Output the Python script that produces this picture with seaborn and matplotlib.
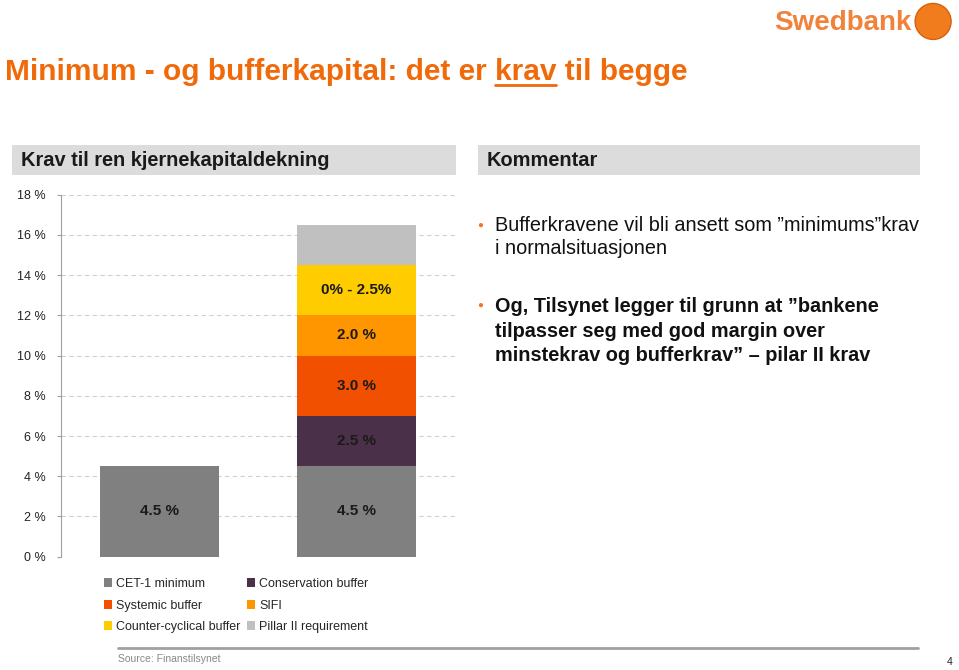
import pandas as pd
import matplotlib.pyplot as plt
import seaborn as sns
from matplotlib.patches import Rectangle, Ellipse

# data
categories = ['Minimum', 'Totalt']
components = ['CET-1 minimum', 'Conservation buffer', 'Systemic buffer', 'SIFI',
              'Counter-cyclical buffer', 'Pillar II requirement']
minimum_vals = [4.5, 0, 0, 0, 0, 0]
total_vals = [4.5, 2.5, 3.0, 2.0, 2.5, 2.0]
seg_labels = ['4.5 %', '2.5 %', '3.0 %', '2.0 %', '0% - 2.5%', '']
colors = ['#808080', '#4B3049', '#F05000', '#FF9600', '#FFCC00', '#C0C0C0']
yticks = [0, 2, 4, 6, 8, 10, 12, 14, 16, 18]

sns.set_style('white')
plt.rcParams['font.family'] = ['Liberation Sans', 'DejaVu Sans']

fig = plt.figure(figsize=(9.59, 6.7), dpi=100)
ax = fig.add_axes([0.0636, 0.1691, 0.4109, 0.5403])

df = pd.DataFrame({'Minimum': minimum_vals, 'Totalt': total_vals}, index=components)
cum = df.cumsum()

# stablede søyler: tegn kumulative summer fra øverste lag og ned
for comp, col in reversed(list(zip(components, colors))):
    d = pd.DataFrame({'kategori': categories, 'verdi': cum.loc[comp].values})
    sns.barplot(data=d, x='kategori', y='verdi', color=col, saturation=1,
                width=0.6, ax=ax, zorder=3, linewidth=0, edgecolor='none')

# tekst i segmentene
for i, cat in enumerate(categories):
    bottom = 0
    for comp, lab in zip(components, seg_labels):
        h = df.loc[comp, cat]
        if h > 0 and lab:
            ax.text(i, bottom + h / 2, lab, ha='center', va='center',
                    fontsize=11, fontweight='bold', color='#1a1a1a', zorder=4)
        bottom += h

ax.set_xlim(-0.5, 1.5)
ax.set_ylim(0, 18)
ax.set_yticks(yticks)
ax.set_yticklabels([f'{v} %' for v in yticks], fontsize=9, color='#222222')
ax.set_xticks([])
ax.set_xlabel('')
ax.set_ylabel('')
ax.yaxis.grid(True, linestyle=(0, (4, 3)), color='#d0d0d0', linewidth=0.8, zorder=0)
for s in ['top', 'right', 'bottom']:
    ax.spines[s].set_visible(False)
ax.spines['left'].set_color('#a0a0a0')
ax.tick_params(axis='y', length=3, color='#a0a0a0', pad=8, left=True)

# tittel med understreket "krav"
title = 'Minimum - og bufferkapital: det er krav til begge'
tsize = 21.5
ty = 0.881
fig.text(0.005, ty, title, fontsize=tsize, fontweight='bold', color='#F06A0A',
         va='baseline')
r = fig.canvas.get_renderer()
m1 = fig.text(0, 0, 'Minimum - og bufferkapital: det er krav', fontsize=tsize,
              fontweight='bold', alpha=0)
m2 = fig.text(0, 0, 'krav', fontsize=tsize, fontweight='bold', alpha=0)
w1 = m1.get_window_extent(r).width / fig.bbox.width
w2 = m2.get_window_extent(r).width / fig.bbox.width
x_end = 0.005 + w1
fig.add_artist(plt.Line2D([x_end - w2, x_end], [ty - 0.0075, ty - 0.0075],
                          color='#F06A0A', lw=2))

# logo
fig.text(0.807, 0.966, 'Swedbank', fontsize=20, fontweight='bold', color='#F0823A',
         va='center', ha='left')
fig.add_artist(Ellipse((0.973, 0.968), 2 * 18 / 959, 2 * 18 / 670,
                       transform=fig.transFigure, facecolor='#F07C1E',
                       edgecolor='#D9600A', lw=1))

# overskriftsbokser
fig.add_artist(Rectangle((0.013, 0.739), 0.463, 0.045, transform=fig.transFigure,
                         facecolor='#DCDCDC', edgecolor='none'))
fig.text(0.022, 0.761, 'Krav til ren kjernekapitaldekning', fontsize=14.4,
         fontweight='bold', color='#1a1a1a', va='center')
fig.add_artist(Rectangle((0.498, 0.739), 0.461, 0.045, transform=fig.transFigure,
                         facecolor='#DCDCDC', edgecolor='none'))
fig.text(0.507, 0.761, 'Kommentar', fontsize=14.4, fontweight='bold',
         color='#1a1a1a', va='center')

# kulepunkter
fig.text(0.501, 0.664, '\u25CF', fontsize=7, color='#E8782A', va='center', ha='center')
fig.text(0.516, 0.678, 'Bufferkravene vil bli ansett som \u201dminimums\u201dkrav\ni normalsituasjonen',
         fontsize=14.3, color='#111111', va='top', linespacing=1.3)
fig.text(0.501, 0.545, '\u25CF', fontsize=7, color='#E8782A', va='center', ha='center')
fig.text(0.516, 0.557,
         'Og, Tilsynet legger til grunn at \u201dbankene\ntilpasser seg med god margin over\n'
         'minstekrav og bufferkrav\u201d \u2013 pilar II krav',
         fontsize=14.3, fontweight='bold', color='#111111', va='top', linespacing=1.38)

# tegnforklaring
handles = [Rectangle((0, 0), 1, 1, facecolor=c, edgecolor='none') for c in colors]
order = [0, 2, 4, 1, 3, 5]
fig.legend([handles[i] for i in order], [components[i] for i in order],
           loc='upper left', bbox_to_anchor=(0.108, 0.137), ncol=2, frameon=False,
           fontsize=9, handlelength=0.7, handleheight=0.7, handletextpad=0.3,
           columnspacing=0.5, labelspacing=0.75, borderaxespad=0, borderpad=0)

# kildelinje
fig.add_artist(plt.Line2D([0.123, 0.957], [0.033, 0.033], color='#a0a0a0', lw=2))
fig.text(0.123, 0.017, 'Source: Finanstilsynet', fontsize=7.5, color='#888888', va='center')
fig.text(0.993, 0.012, '4', fontsize=7.5, color='#222222', ha='right', va='center')

fig.savefig('out.png', dpi=100)
